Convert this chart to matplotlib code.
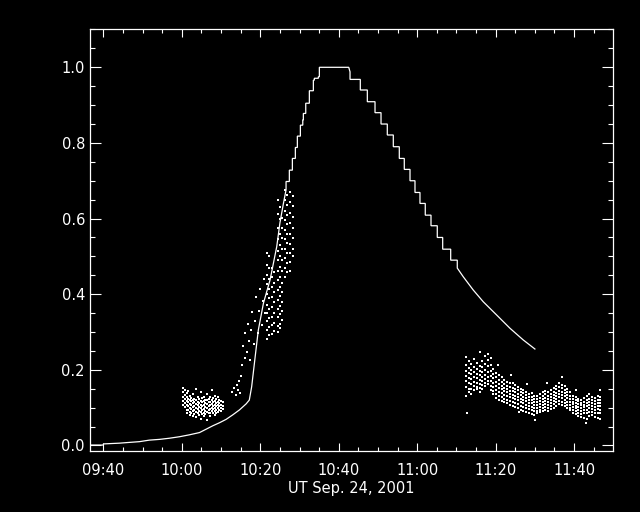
import matplotlib
matplotlib.use("Agg")
import matplotlib.pyplot as plt
from matplotlib.ticker import MultipleLocator, FuncFormatter

# ---- data (time in minutes UT since 00:00, normalised flux) ----
curve_t = [576.8, 580.0, 580.0, 584.1, 586.6, 589.2, 591.7, 594.3, 596.8, 599.4,
           601.9, 604.5, 606.2, 607.9, 609.6, 611.3, 613.0, 614.7, 616.4, 617.2,
           617.8, 618.7, 619.5, 620.8, 622.5, 624.2, 625.0, 625.9,
           626.57, 626.57, 627.41, 627.41, 628.18, 628.18, 628.94, 628.94,
           629.45, 629.45, 630.22, 630.22, 630.83, 630.83, 630.98, 630.98,
           631.59, 631.59, 632.51, 632.51, 633.53, 633.53, 633.78, 633.78,
           634.80, 634.80, 635.06, 635.06, 642.55, 642.88, 642.88, 645.50,
           645.50, 647.29, 647.29, 649.25, 649.25, 650.78, 650.78, 652.38,
           652.38, 653.91, 653.91, 655.44, 655.44, 656.71, 656.71, 658.17,
           658.17, 659.44, 659.44, 660.71, 660.71, 662.06, 662.06, 663.52,
           663.52, 665.12, 665.12, 666.50, 666.50, 668.54, 668.54, 670.22,
           670.22, 671.75, 674.29, 676.84, 680.25, 683.64, 687.03, 690.01]
curve_v = [0.001, 0.001, 0.004, 0.006, 0.008, 0.010, 0.014, 0.016, 0.019, 0.023,
           0.028, 0.034, 0.043, 0.052, 0.060, 0.069, 0.081, 0.094, 0.110, 0.120,
           0.155, 0.235, 0.305, 0.376, 0.438, 0.526, 0.588, 0.640,
           0.676, 0.698, 0.698, 0.728, 0.728, 0.759, 0.759, 0.788,
           0.788, 0.818, 0.818, 0.847, 0.847, 0.861, 0.861, 0.878,
           0.878, 0.905, 0.905, 0.938, 0.938, 0.966, 0.966, 0.971,
           0.971, 0.975, 0.975, 1.000, 1.000, 0.988, 0.968, 0.968,
           0.940, 0.940, 0.909, 0.909, 0.880, 0.880, 0.850, 0.850,
           0.821, 0.821, 0.790, 0.790, 0.759, 0.759, 0.730, 0.730,
           0.700, 0.700, 0.669, 0.669, 0.640, 0.640, 0.609, 0.609,
           0.581, 0.581, 0.550, 0.550, 0.519, 0.519, 0.490, 0.490,
           0.469, 0.446, 0.411, 0.380, 0.345, 0.310, 0.279, 0.255]

# radio samples before the impulsive phase (values in thousandths)
pre_t = [600.4, 600.8, 601.2, 601.6, 602.0, 602.4, 602.8, 603.2, 603.6, 604.0,
         604.4, 604.8, 605.2, 605.6, 606.0, 606.4, 606.8, 607.2, 607.6, 608.0,
         608.4, 608.8, 609.2, 609.6, 610.0, 610.4]
pre_v = [[152, 140, 129, 118, 108], [146, 134, 123, 112, 101],
         [139, 127, 117, 106, 95, 87], [144, 124, 114, 104, 93],
         [131, 120, 110, 100, 89, 80], [126, 117, 107, 97, 86],
         [136, 121, 111, 101, 91, 78], [124, 114, 104, 94, 84],
         [150, 119, 109, 99, 89, 75], [127, 116, 106, 96, 86],
         [122, 112, 102, 92, 80], [141, 118, 108, 98, 88, 71],
         [125, 114, 104, 94, 84], [129, 117, 107, 97, 87, 77],
         [121, 111, 101, 91, 82], [137, 119, 109, 99, 89, 68],
         [124, 114, 104, 94, 85], [128, 116, 106, 96, 87, 78],
         [146, 120, 110, 100, 90], [125, 115, 105, 96, 86],
         [131, 118, 108, 99, 90, 81], [122, 113, 104, 95, 87],
         [127, 116, 107, 98, 89], [120, 111, 103, 94],
         [117, 108, 100, 92], [114, 105, 97]]

# sparse samples along the rise
rise_t = [612.9, 613.4, 613.7, 614.0, 614.3, 614.6, 614.9, 615.2, 615.4, 615.7,
          616.0, 616.2, 616.5, 616.8, 617.0, 617.3, 617.6, 618.0, 618.3, 618.7,
          619.0, 619.3, 619.7, 620.0, 620.4, 620.7, 621.0, 621.3]
rise_v = [0.141, 0.152, 0.133, 0.160, 0.146, 0.171, 0.138, 0.183, 0.214, 0.262,
          0.232, 0.298, 0.246, 0.320, 0.276, 0.225, 0.305, 0.352, 0.268, 0.330,
          0.392, 0.297, 0.356, 0.415, 0.318, 0.381, 0.440, 0.350]

# impulsive bursts (values in thousandths)
burst_t = [621.7, 622.3, 622.9, 623.5, 624.5, 625.0, 625.5, 626.3, 626.9, 627.6, 628.3]
burst_v = [[510, 478, 452, 428, 400, 372, 350, 330, 305, 282],
           [500, 468, 440, 415, 390, 360, 338, 312, 292],
           [470, 445, 420, 392, 365, 340, 318, 295],
           [458, 430, 405, 378, 350, 325, 302],
           [648, 612, 576, 545, 515, 490, 462, 438, 410, 385, 362, 340, 315, 300],
           [630, 598, 560, 530, 500, 472, 445, 418, 395, 370, 348, 322, 310],
           [602, 575, 548, 520, 490, 460, 430, 405, 380, 355, 332],
           [676, 650, 620, 595, 570, 545, 520, 495, 470, 445],
           [662, 636, 610, 585, 560, 535, 508, 482, 458],
           [670, 644, 616, 588, 560, 534, 508, 484, 462],
           [660, 632, 604, 576, 548, 520, 500]]

# decay-phase samples (values in thousandths)
post_t = [672.4, 673.1, 673.8, 674.5, 675.2, 675.9, 676.6, 677.3, 678.0, 678.7,
          679.4, 680.1, 680.8, 681.5, 682.2, 682.9, 683.6, 684.3, 685.0, 685.7,
          686.4, 687.1, 687.8, 688.5, 689.2, 689.9, 690.6, 691.3, 692.0, 692.7,
          693.4, 694.1, 694.8, 695.5, 696.2, 696.9, 697.6, 698.3, 699.0, 699.7,
          700.4, 701.1, 701.8, 702.5, 703.2, 703.9, 704.6, 705.3, 706.0, 706.7]
post_v = [[234, 212, 196, 183, 170, 155, 132], [222, 205, 191, 178, 166, 150, 140],
          [215, 200, 188, 175, 163, 149, 136], [228, 208, 194, 181, 169, 157, 146],
          [219, 203, 190, 178, 166, 154, 150], [210, 197, 186, 174, 162, 151, 141],
          [224, 207, 193, 181, 170, 159, 148], [236, 216, 200, 187, 175, 164, 156],
          [241, 225, 209, 195, 182, 171, 163], [230, 212, 197, 183, 170, 158, 147],
          [203, 190, 178, 166, 155, 145, 135], [192, 180, 168, 157, 147, 136, 126],
          [186, 174, 163, 152, 142, 131, 121], [180, 169, 158, 148, 138, 128, 118],
          [172, 163, 153, 143, 134, 124, 114], [169, 158, 149, 140, 130, 121, 111],
          [164, 154, 145, 136, 127, 118, 108], [166, 152, 143, 134, 125, 115, 105],
          [160, 149, 140, 131, 122, 112, 101], [155, 146, 137, 128, 119, 109, 98],
          [150, 141, 133, 124, 115, 105, 95], [147, 138, 129, 121, 112, 102, 92],
          [141, 133, 125, 117, 108, 99, 89], [137, 129, 121, 113, 105, 96, 86],
          [138, 128, 119, 111, 102, 93, 82], [132, 124, 116, 108, 100, 91, 80],
          [130, 122, 115, 107, 99, 92, 85], [135, 126, 118, 110, 102, 95, 88],
          [140, 131, 122, 114, 106, 98, 90], [145, 135, 126, 118, 110, 101, 93],
          [141, 132, 124, 116, 108, 100, 92], [146, 137, 128, 120, 112, 104, 96],
          [151, 142, 133, 125, 117, 109, 100], [158, 148, 139, 130, 122, 114, 105],
          [165, 154, 144, 135, 127, 118, 109], [161, 151, 142, 133, 125, 116, 107],
          [156, 147, 138, 130, 121, 113, 104], [150, 141, 133, 125, 116, 108, 99],
          [140, 132, 124, 116, 108, 100, 93], [131, 124, 116, 109, 101, 94, 87],
          [128, 120, 113, 105, 98, 90, 83], [124, 117, 109, 102, 95, 87, 79],
          [120, 113, 106, 99, 92, 84, 76], [125, 116, 108, 101, 93, 85, 72],
          [130, 120, 111, 103, 95, 86, 70], [135, 124, 115, 106, 98, 89, 77],
          [129, 120, 112, 104, 96, 88, 80], [125, 117, 109, 101, 94, 86, 75],
          [130, 121, 112, 104, 96, 87, 72], [128, 119, 111, 103, 95, 86, 70]]

# isolated samples in the decay phase
stray_t = [672.6, 676.0, 680.5, 684.0, 686.0, 688.0, 690.0, 693.0, 697.0,
           700.5, 703.0, 706.5]
stray_v = [0.085, 0.247, 0.212, 0.186, 0.088, 0.162, 0.068, 0.166, 0.182,
           0.146, 0.060, 0.146]

x_title = "UT Sep. 24, 2001"


def flatten(times, cols):
    xs, ys = [], []
    for t, col in zip(times, cols):
        for v in col:
            xs.append(t)
            ys.append(v / 1000.0)
    return xs, ys


fig = plt.figure(figsize=(6.4, 5.12), dpi=100, facecolor="black")
ax = fig.add_axes([0.1413, 0.1182, 0.8164, 0.8242], facecolor="black")

ax.plot(curve_t, curve_v, color="white", lw=0.9, solid_joinstyle="miter")

dot_style = dict(linestyle="none", marker="s", ms=2.0, mew=0, color="white")
for tt, vv in (flatten(pre_t, pre_v), flatten(burst_t, burst_v), flatten(post_t, post_v)):
    ax.plot(tt, vv, **dot_style)
ax.plot(rise_t, rise_v, **dot_style)
ax.plot(stray_t, stray_v, **dot_style)

ax.set_xlim(576.7, 709.9)
ax.set_ylim(-0.016, 1.1)

ax.xaxis.set_major_locator(MultipleLocator(20))
ax.xaxis.set_minor_locator(MultipleLocator(5))
ax.yaxis.set_major_locator(MultipleLocator(0.2))
ax.yaxis.set_minor_locator(MultipleLocator(0.05))


def fmt_time(m, pos):
    m = int(round(m))
    return f"{m // 60:02d}:{m % 60:02d}"


ax.xaxis.set_major_formatter(FuncFormatter(fmt_time))
ax.yaxis.set_major_formatter(FuncFormatter(lambda v, p: f"{v:.1f}"))

for s in ax.spines.values():
    s.set_color("white")
    s.set_linewidth(0.9)

ax.tick_params(axis="x", which="major", direction="in", length=6, width=0.8,
               top=True, bottom=True, colors="white", labelsize=10.5, pad=8.5)
ax.tick_params(axis="x", which="minor", direction="in", length=3, width=0.8,
               top=True, bottom=True, colors="white")
ax.tick_params(axis="y", which="major", direction="in", length=7.7, width=0.8,
               left=True, right=True, colors="white", labelsize=10.5, pad=4)
ax.tick_params(axis="y", which="minor", direction="in", length=3.9, width=0.8,
               left=True, right=True, colors="white")

fig.text(351.6 / 640, 1 - 488 / 512, x_title, color="white", fontsize=10.5,
         ha="center", va="center")

fig.savefig("out.png", dpi=100, facecolor="black")
